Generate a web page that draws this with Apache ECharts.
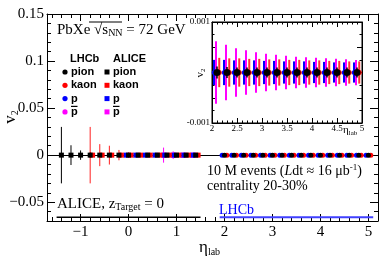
<!DOCTYPE html>
<html><head><meta charset="utf-8">
<script src="https://cdn.jsdelivr.net/npm/echarts@6/dist/echarts.min.js"></script>
<style>html,body{margin:0;padding:0;background:#fff}#c{width:390px;height:264px}</style>
</head><body><div id="c"></div>
<script>
// ---------------- data ----------------
const aliceEta        = [-1.4,-1.2,-1.0,-0.8,-0.6,-0.4,-0.2,0.0,0.2,0.4,0.6,0.8,1.0,1.2,1.4];
const alicePionV2     = [0,0,0,0,0,0,0,0,0,0,0,0,0,0,0];
const alicePionErr    = [0.030,0.0105,0.005,0.003,0.002,0.0015,0.0012,0.001,0.001,0.001,0.001,0.001,0.001,0.001,0.001];
const aliceKaonEta    = [-0.8,-0.6,-0.4,-0.2,0.0,0.2,0.4,0.6,0.8,1.0,1.2,1.4];
const aliceKaonV2     = [0,0,0,0,0,0,0,0,0,0,0,0];
const aliceKaonErr    = [0.030,0.0117,0.010,0.0055,0.003,0.002,0.0015,0.0012,0.001,0.001,0.001,0.001];
const aliceProtonEta  = [0.0,0.2,0.4,0.6,0.8,1.0,1.2,1.4];
const aliceProtonV2   = [0,0,0,0,0,0,0,0];
const aliceProtonErr  = [0.002,0.0015,0.0012,0.001,0.001,0.001,0.001,0.001];
const aliceAntiPEta   = [0.8,1.0,1.2,1.4];
const aliceAntiPV2    = [0,0,0,0];
const aliceAntiPErr   = [0.008,0.004,0.002,0.0015];

const lhcbEtaMain     = [2.0,2.2,2.4,2.6,2.8,3.0,3.2,3.4,3.6,3.8,4.0,4.2,4.4,4.6,4.8,5.0];
const lhcbV2Main      = [0,0,0,0,0,0,0,0,0,0,0,0,0,0,0,0];

const lhcbEtaInset    = [2.1,2.3,2.5,2.7,2.9,3.1,3.3,3.5,3.7,3.9,4.1,4.3,4.5,4.7,4.9];
const lhcbPionV2      = [0,0,0,0,0,0,0,0,0,0,0,0,0,0,0];
const lhcbPionErr     = [0.00012,0.00011,0.0001,0.0001,0.0001,0.0001,0.0001,0.0001,0.0001,0.0001,0.0001,0.0001,0.0001,0.0001,0.0001];
const lhcbKaonV2      = [0,0,0,0,0,0,0,0,0,0,0,0,0,0,0];
const lhcbKaonErr     = [0.00029,0.00028,0.00028,0.00027,0.00027,0.00026,0.00026,0.00025,0.00025,0.00024,0.00024,0.00023,0.00023,0.00022,0.00022];
const lhcbProtonV2    = [0,0,0,0,0,0,0,0,0,0,0,0,0,0,0];
const lhcbProtonErr   = [0.00025,0.00025,0.00024,0.00024,0.00024,0.00023,0.00023,0.00022,0.00022,0.00022,0.00021,0.00021,0.0002,0.0002,0.0002];
const lhcbAntiPV2     = [0,0,0,0,0,0,0,0,0,0,0,0,0,0,0];
const lhcbAntiPErr    = [0.00062,0.00055,0.00048,0.00044,0.0004,0.00037,0.00035,0.00033,0.00031,0.0003,0.00029,0.00028,0.00027,0.00026,0.00025];

const aliceRange = [-1.5, 1.5];
const lhcbRange  = [1.9, 5.1];
const rangeLineV2 = -0.066;

// ---------------- style ----------------
const SERIF = 'Liberation Serif';
const SANS = 'Liberation Sans';
const C = {pion:'#000000', kaon:'#ff0000', p:'#0000ff', pbar:'#ff00ff'};

function fmtMinus(v){ return v < 0 ? '\u2212' + String(+(-v).toFixed(6)) : String(+v.toFixed(6)); }

// step: tick spacing forced via min/maxInterval so ticks sit on multiples of step
function ax(grid, pos, min, max, step, len, labels, extra){
  return Object.assign({
    type:'value', gridIndex:grid, position:pos, min, max,
    minInterval:step, maxInterval:step, splitNumber:Math.round((max-min)/step),
    axisLine:{show:true, onZero:false, lineStyle:{color:'#000', width:1}},
    axisTick:{show:true, inside:true, length:len, lineStyle:{color:'#000', width:1}},
    axisLabel:{show:labels}, splitLine:{show:false}
  }, extra||{});
}
const noLine = {axisLine:{show:false, onZero:false}};
const mainXLabel = {show:true, color:'#000', fontFamily:SERIF, fontSize:15, margin:4,
  formatter: v => Math.abs(v - Math.round(v)) < 1e-6 ? fmtMinus(Math.round(v)) : ''};
const mainYLabel = {show:true, color:'#000', fontFamily:SERIF, fontSize:15, margin:3,
  formatter: v => Math.abs(v/0.05 - Math.round(v/0.05)) < 1e-6 ? fmtMinus(v) : ''};
const insetXLabel = {show:true, color:'#000', fontFamily:SERIF, fontSize:9, margin:1,
  formatter: v => String(+v.toFixed(2))};
const insetYLabel = {show:true, color:'#000', fontFamily:SERIF, fontSize:9, margin:2,
  formatter: v => Math.abs(Math.abs(v) - 0.001) < 1e-9 ? (v < 0 ? '-0.001' : '0.001') : ''};

const xAxes = [
  ax(0,'bottom',-1.7,5.2,1,7,true,{axisLabel:mainXLabel}),
  ax(0,'bottom',-1.7,5.2,0.2,4,false,noLine),
  ax(0,'top',-1.7,5.2,1,7,false),
  ax(0,'top',-1.7,5.2,0.2,4,false,noLine),
  ax(1,'bottom',2,5,0.5,5,true,{axisLabel:insetXLabel, z:20,
    minorTick:{show:true, splitNumber:5, length:2.5, lineStyle:{color:'#000'}}}),
  ax(1,'top',2,5,0.5,5,false,{z:20,
    minorTick:{show:true, splitNumber:5, length:2.5, lineStyle:{color:'#000'}}})
];
const yAxes = [
  ax(0,'left',-0.07,0.15,0.05,8,true,{axisLabel:mainYLabel}),
  ax(0,'left',-0.07,0.15,0.01,4,false,noLine),
  ax(0,'right',-0.07,0.15,0.05,8,false),
  ax(0,'right',-0.07,0.15,0.01,4,false,noLine),
  ax(1,'left',-0.001,0.001,0.0005,5,true,{axisLabel:insetYLabel, z:20,
    minorTick:{show:true, splitNumber:2, length:2.5, lineStyle:{color:'#000'}}}),
  ax(1,'right',-0.001,0.001,0.0005,5,false,{z:20,
    minorTick:{show:true, splitNumber:2, length:2.5, lineStyle:{color:'#000'}}})
];
const MAIN = 0, INSET = 4;

function errSeries(xs, ys, es, off, color, width, a, z){
  return {
    type:'custom', xAxisIndex:a, yAxisIndex:a, z, silent:true, animation:false,
    data: xs.map((x,i)=>[x+off, ys[i], es[i]]),
    encode:{x:0, y:1},
    renderItem:(params, api)=>{
      const x = api.value(0), y = api.value(1), e = api.value(2);
      const p = api.coord([x, y-e]), q = api.coord([x, y+e]);
      return {type:'line', shape:{x1:p[0], y1:p[1], x2:q[0], y2:q[1]},
        style:{stroke:color, lineWidth:width}};
    }
  };
}
function ptSeries(xs, ys, off, color, symbol, size, a, z){
  return {type:'scatter', xAxisIndex:a, yAxisIndex:a, z, silent:true, animation:false,
    symbol, symbolSize:size, itemStyle:{color, opacity:1},
    data: xs.map((x,i)=>[x+off, ys[i]])};
}

const series = [
  {type:'line', xAxisIndex:MAIN, yAxisIndex:MAIN, z:2, silent:true, animation:false, symbol:'none',
   data:[[aliceRange[0],rangeLineV2],[aliceRange[1],rangeLineV2]], lineStyle:{color:'#000', width:1.5},
   markLine:{silent:true, symbol:'none', animation:false, label:{show:false},
     data:[{yAxis:0}], lineStyle:{color:'#000', width:1, type:'solid'}}},
  {type:'line', xAxisIndex:MAIN, yAxisIndex:MAIN, z:2, silent:true, animation:false, symbol:'none',
   data:[[lhcbRange[0],rangeLineV2],[lhcbRange[1],rangeLineV2]], lineStyle:{color:'#4040ff', width:2}},
  errSeries(aliceAntiPEta, aliceAntiPV2, aliceAntiPErr, -0.07, C.pbar, 1, MAIN, 3),
  errSeries(aliceProtonEta, aliceProtonV2, aliceProtonErr, -0.05, C.p, 1, MAIN, 3),
  errSeries(aliceKaonEta, aliceKaonV2, aliceKaonErr, 0.0, '#ff2020', 1, MAIN, 3),
  errSeries(aliceEta, alicePionV2, alicePionErr, 0, C.pion, 1, MAIN, 3),
  ptSeries(aliceAntiPEta, aliceAntiPV2, -0.07, C.pbar, 'rect', 5, MAIN, 4),
  ptSeries(aliceProtonEta, aliceProtonV2, -0.05, C.p, 'rect', 5, MAIN, 5),
  ptSeries(aliceKaonEta, aliceKaonV2, 0.05, C.kaon, 'rect', 5, MAIN, 6),
  ptSeries(aliceEta, alicePionV2, 0, C.pion, 'rect', 5, MAIN, 7),
  ptSeries(lhcbEtaMain, lhcbV2Main, -0.05, C.p, 'circle', 5, MAIN, 5),
  ptSeries(lhcbEtaMain, lhcbV2Main, 0.05, C.kaon, 'circle', 5, MAIN, 6),
  ptSeries(lhcbEtaMain, lhcbV2Main, 0, C.pion, 'circle', 5, MAIN, 7),
  // inset
  {type:'line', xAxisIndex:INSET, yAxisIndex:INSET, z:21, silent:true, animation:false, symbol:'none', data:[],
   markLine:{silent:true, symbol:'none', animation:false, label:{show:false},
     data:[{yAxis:0}], lineStyle:{color:'#000', width:1, type:'solid'}}},
  errSeries(lhcbEtaInset, lhcbProtonV2, lhcbProtonErr, -0.055, C.p, 2.5, INSET, 22),
  errSeries(lhcbEtaInset, lhcbAntiPV2, lhcbAntiPErr, -0.02, C.pbar, 2, INSET, 22),
  errSeries(lhcbEtaInset, lhcbKaonV2, lhcbKaonErr, 0.045, '#ff3030', 2, INSET, 22),
  ptSeries(lhcbEtaInset, lhcbProtonV2, -0.055, C.p, 'circle', 5, INSET, 23),
  ptSeries(lhcbEtaInset, lhcbKaonV2, 0.045, C.kaon, 'circle', 5, INSET, 23),
  errSeries(lhcbEtaInset, lhcbPionV2, lhcbPionErr, 0, C.pion, 1.5, INSET, 24),
  ptSeries(lhcbEtaInset, lhcbPionV2, 0, C.pion, 'circle', 7, INSET, 25)
];

// ---------------- annotations ----------------
const rs = (fs, extra) => Object.assign({fontFamily:SERIF, fontSize:fs, fill:'#000', lineHeight:fs+2}, extra||{});
const graphic = [
  {type:'text', z:50, style:{x:57, y:30, verticalAlign:'middle',
    text:'{a|PbXe \u221A}{a|s}{s|NN}{a| = 72 GeV}',
    rich:{a:rs(15), s:rs(10,{lineHeight:4, verticalAlign:'bottom'})}}},
  {type:'line', z:50, shape:{x1:89, y1:22, x2:122, y2:22}, style:{stroke:'#000', lineWidth:1}},
  {type:'text', z:50, style:{x:70, y:59, verticalAlign:'middle', text:'LHCb', font:'bold 11px '+SANS, fill:'#000'}},
  {type:'text', z:50, style:{x:113, y:59, verticalAlign:'middle', text:'ALICE', font:'bold 11px '+SANS, fill:'#000'}},
  ...['pion','kaon','p','p'].flatMap((t,i)=>{
    const y = 72 + i*13.3, col = [C.pion,C.kaon,C.p,C.pbar][i];
    const out = [
      {type:'circle', z:50, shape:{cx:65, cy:y, r:2.6}, style:{fill:col}},
      {type:'rect', z:50, shape:{x:104.5, y:y-2.5, width:5, height:5}, style:{fill:col}},
      {type:'text', z:50, style:{x:71, y:y, verticalAlign:'middle', text:t, font:'bold 11px '+SANS, fill:'#000'}},
      {type:'text', z:50, style:{x:113, y:y, verticalAlign:'middle', text:t, font:'bold 11px '+SANS, fill:'#000'}}
    ];
    if (i===3){
      out.push({type:'line', z:50, shape:{x1:71, y1:y-5.5, x2:77.5, y2:y-5.5}, style:{stroke:'#000', lineWidth:1.2}});
      out.push({type:'line', z:50, shape:{x1:113, y1:y-5.5, x2:119.5, y2:y-5.5}, style:{stroke:'#000', lineWidth:1.2}});
    }
    return out;
  }),
  {type:'text', z:50, style:{x:207, y:171, verticalAlign:'middle',
    text:'{a|10 M events (}{i|L}{a|dt \u2248 16 \u03BCb}{u|-1}{a|)}',
    rich:{a:rs(14), i:rs(14,{fontStyle:'italic'}), u:rs(9,{lineHeight:6, verticalAlign:'top'})}}},
  {type:'text', z:50, style:{x:207, y:186, verticalAlign:'middle', text:'centrality 20-30%', font:'14px '+SERIF, fill:'#000'}},
  {type:'text', z:50, style:{x:57, y:204, verticalAlign:'middle',
    text:'{a|ALICE, z}{s|Target}{a| = 0}',
    rich:{a:rs(15), s:rs(10,{lineHeight:4, verticalAlign:'bottom'})}}},
  {type:'text', z:50, style:{x:219, y:210, verticalAlign:'middle', text:'LHCb', font:'14px '+SERIF, fill:'#0000ff'}},
  {type:'text', z:50, style:{x:199, y:248, verticalAlign:'middle',
    text:'{e|\u03B7}{s|lab}', rich:{e:rs(17), s:rs(10,{lineHeight:4, verticalAlign:'bottom'})}}},
  {type:'text', z:50, rotation:Math.PI/2, x:11, y:117, style:{x:0, y:0, align:'center', verticalAlign:'middle',
    text:'{v|v}{s|2}', rich:{v:rs(17), s:rs(10,{lineHeight:4, verticalAlign:'bottom'})}}},
  {type:'text', z:50, rotation:Math.PI/2, x:200, y:73, style:{x:0, y:0, align:'center', verticalAlign:'middle',
    text:'{v|v}{s|2}', rich:{v:rs(11), s:rs(7,{lineHeight:3, verticalAlign:'bottom'})}}},
  {type:'text', z:50, style:{x:343, y:130, verticalAlign:'middle',
    text:'{e|\u03B7}{s|lab}', rich:{e:rs(11), s:rs(7,{lineHeight:3, verticalAlign:'bottom'})}}}
];

const chart = echarts.init(document.getElementById('c'), null, {renderer:'canvas'});
chart.setOption({
  animation:false,
  backgroundColor:'#fff',
  grid:[
    {left:47, top:14, right:12, bottom:43, show:false},
    {left:212, top:22, width:150, height:101, show:true, backgroundColor:'#fff', borderColor:'#000', borderWidth:1, z:10}
  ],
  xAxis:xAxes, yAxis:yAxes, series, graphic
});
</script></body></html>
